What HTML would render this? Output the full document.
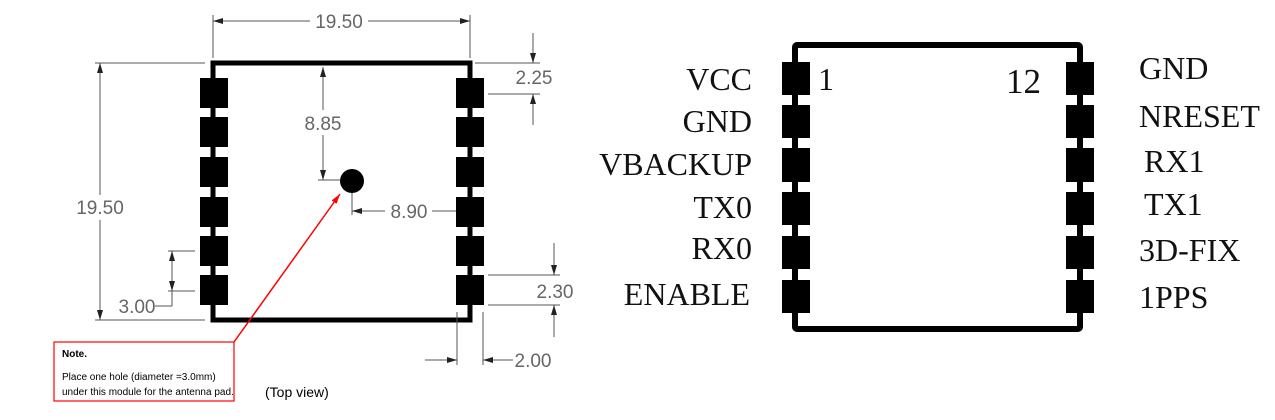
<!DOCTYPE html>
<html><head><style>
html,body{margin:0;padding:0;background:#fff;}
svg{display:block;}
.d{stroke:#555;stroke-width:1;fill:none;}
.t{font-family:"Liberation Sans",sans-serif;font-size:19px;fill:#666;}
.s{font-family:"Liberation Serif",serif;font-size:32px;fill:#111;}
</style></head><body>
<svg width="1275" height="420" viewBox="0 0 1275 420" xmlns="http://www.w3.org/2000/svg">
<defs>
<marker id="a" viewBox="0 0 10 6" refX="10" refY="3" markerWidth="10" markerHeight="6" orient="auto-start-reverse" markerUnits="userSpaceOnUse"><path d="M0,0L10,3L0,6z" fill="#222"/></marker>
<marker id="r" viewBox="0 0 10 6" refX="10" refY="3" markerWidth="10" markerHeight="6" orient="auto" markerUnits="userSpaceOnUse"><path d="M0,0L10,3L0,6z" fill="red"/></marker>
</defs>
<rect x="213" y="63" width="257" height="257" fill="none" stroke="#000" stroke-width="5"/>
<g fill="#000">
<rect x="200" y="78" width="28" height="30"/><rect x="200" y="117" width="28" height="30"/><rect x="200" y="157" width="28" height="30"/><rect x="200" y="197" width="28" height="30"/><rect x="200" y="236" width="28" height="30"/><rect x="200" y="275" width="28" height="30"/>
<rect x="456" y="78" width="28" height="30"/><rect x="456" y="117" width="28" height="30"/><rect x="456" y="157" width="28" height="30"/><rect x="456" y="197" width="28" height="30"/><rect x="456" y="236" width="28" height="30"/><rect x="456" y="275" width="28" height="30"/>
<circle cx="352" cy="181" r="12"/>
</g>
<line class="d" x1="213" y1="15" x2="213" y2="58"/><line class="d" x1="470" y1="15" x2="470" y2="58"/>
<line class="d" x1="213" y1="21" x2="310" y2="21" marker-start="url(#a)"/><line class="d" x1="368" y1="21" x2="470" y2="21" marker-end="url(#a)"/>
<text class="t" x="339" y="28" text-anchor="middle">19.50</text>
<line class="d" x1="95" y1="63" x2="205" y2="63"/><line class="d" x1="95" y1="320" x2="205" y2="320"/>
<line class="d" x1="100" y1="63" x2="100" y2="195" marker-start="url(#a)"/><line class="d" x1="100" y1="220" x2="100" y2="320" marker-end="url(#a)"/>
<text class="t" x="100" y="214" text-anchor="middle">19.50</text>
<line class="d" x1="323" y1="67" x2="323" y2="110" marker-start="url(#a)"/><line class="d" x1="323" y1="135" x2="323" y2="180" marker-end="url(#a)"/>
<line class="d" x1="318" y1="180" x2="340" y2="180"/>
<text class="t" x="323" y="130" text-anchor="middle">8.85</text>
<line class="d" x1="352" y1="193" x2="352" y2="215"/>
<line class="d" x1="352" y1="211" x2="385" y2="211" marker-start="url(#a)"/><line class="d" x1="432" y1="211" x2="456" y2="211"/>
<text class="t" x="409" y="218" text-anchor="middle">8.90</text>
<line class="d" x1="475" y1="63" x2="540" y2="63"/><line class="d" x1="488" y1="94" x2="540" y2="94"/>
<line class="d" x1="533" y1="33" x2="533" y2="63" marker-end="url(#a)"/><line class="d" x1="533" y1="125" x2="533" y2="94" marker-end="url(#a)"/>
<text class="t" x="534" y="84" text-anchor="middle">2.25</text>
<line class="d" x1="488" y1="275" x2="560" y2="275"/><line class="d" x1="488" y1="305" x2="560" y2="305"/>
<line class="d" x1="554" y1="243" x2="554" y2="275" marker-end="url(#a)"/><line class="d" x1="554" y1="337" x2="554" y2="305" marker-end="url(#a)"/>
<text class="t" x="555" y="298" text-anchor="middle">2.30</text>
<line class="d" x1="168" y1="251" x2="195" y2="251"/><line class="d" x1="168" y1="291" x2="195" y2="291"/>
<line class="d" x1="172" y1="251" x2="172" y2="271" marker-start="url(#a)"/><line class="d" x1="172" y1="271" x2="172" y2="291" marker-end="url(#a)"/>
<line class="d" x1="172" y1="291" x2="172" y2="306"/><line class="d" x1="155" y1="306" x2="172" y2="306"/>
<text class="t" x="137" y="313" text-anchor="middle">3.00</text>
<line class="d" x1="457" y1="312" x2="457" y2="365"/><line class="d" x1="483" y1="312" x2="483" y2="365"/>
<line class="d" x1="425" y1="360" x2="457" y2="360" marker-end="url(#a)"/><line class="d" x1="513" y1="360" x2="483" y2="360" marker-end="url(#a)"/>
<text class="t" x="533" y="367" text-anchor="middle">2.00</text>
<line x1="234" y1="342" x2="340" y2="194" stroke="red" stroke-width="1.5" marker-end="url(#r)"/>
<rect x="54" y="342" width="180" height="59" fill="none" stroke="red" stroke-width="1.2"/>
<text x="62" y="357" font-family="Liberation Sans,sans-serif" font-size="10" font-weight="bold" fill="#000">Note.</text>
<text x="62" y="380" font-family="Liberation Sans,sans-serif" font-size="10" fill="#000">Place one hole (diameter =3.0mm)</text>
<text x="62" y="395" font-family="Liberation Sans,sans-serif" font-size="10" fill="#000">under this module for the antenna pad.</text>
<text x="265" y="397" font-family="Liberation Sans,sans-serif" font-size="14" fill="#000">(Top view)</text>
<rect x="795" y="45" width="285" height="284" fill="none" stroke="#000" stroke-width="6" rx="2"/>
<g fill="#000">
<rect x="782" y="62" width="28" height="33"/><rect x="782" y="105" width="28" height="33"/><rect x="782" y="148" width="28" height="34"/><rect x="782" y="192" width="28" height="33"/><rect x="782" y="236" width="28" height="33"/><rect x="782" y="280" width="28" height="33"/>
<rect x="1066" y="62" width="28" height="33"/><rect x="1066" y="105" width="28" height="33"/><rect x="1066" y="148" width="28" height="34"/><rect x="1066" y="192" width="28" height="33"/><rect x="1066" y="236" width="28" height="33"/><rect x="1066" y="280" width="28" height="33"/>
</g>
<text class="s" x="818" y="90">1</text>
<text class="s" x="1006" y="93" style="font-size:35px">12</text>
<g text-anchor="end">
<text x="752" y="90" class="s">VCC</text>
<text x="752" y="132" class="s">GND</text>
<text x="752" y="175" class="s">VBACKUP</text>
<text x="752" y="218" class="s">TX0</text>
<text x="752" y="259" class="s">RX0</text>
<text x="750" y="305" class="s">ENABLE</text>
</g>
<text x="1139" y="79" class="s">GND</text>
<text x="1139" y="127" class="s">NRESET</text>
<text x="1144" y="172" class="s">RX1</text>
<text x="1144" y="215" class="s">TX1</text>
<text x="1139" y="261" class="s">3D-FIX</text>
<text x="1139" y="308" class="s">1PPS</text>
</svg>
</body></html>
